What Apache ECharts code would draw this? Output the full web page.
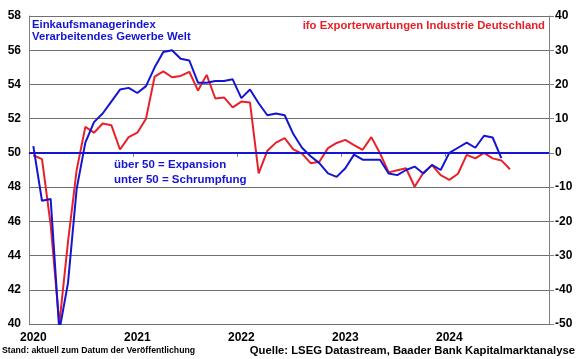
<!DOCTYPE html>
<html>
<head>
<meta charset="utf-8">
<script src="https://cdn.jsdelivr.net/npm/echarts@6/dist/echarts.min.js"></script>
<style>
html,body{margin:0;padding:0;background:#fff;}
#chart{width:580px;height:359px;}
</style>
</head>
<body>
<div id="chart"></div>
<script>
// Months Jan 2020 .. Dec 2024
var years = ['2020', '2021', '2022', '2023', '2024'];
var months = [];
years.forEach(function (y) { for (var m = 1; m <= 12; m++) months.push(y + '-' + (m < 10 ? '0' + m : m)); });

// Einkaufsmanagerindex Verarbeitendes Gewerbe Welt (left axis)
var pmiWorld = [
  50.4, 47.2, 47.3, 39.6, 42.4, 47.9, 50.6, 51.8, 52.3, 53.0, 53.7, 53.8,
  53.5, 53.9, 55.0, 55.9, 56.0, 55.5, 55.4, 54.1, 54.1, 54.2, 54.2, 54.3,
  53.2, 53.7, 52.9, 52.2, 52.3, 52.2, 51.1, 50.3, 49.8, 49.4, 48.8, 48.6,
  49.1, 49.9, 49.6, 49.6, 49.6, 48.8, 48.7, 49.0, 49.2, 48.8, 49.3, 49.0,
  50.0, 50.3, 50.6, 50.3, 51.0, 50.9, 49.7
];

// ifo Exporterwartungen Industrie Deutschland (right axis)
var ifoExport = [
  -0.7, -1.8, -21, -50, -26, -5, 7.6, 5.9, 8.6, 8.1, 1.0, 4.6,
  5.9, 10.0, 22.3, 23.8, 22.1, 22.5, 23.7, 18.2, 22.8, 15.9, 16.2, 13.3,
  15.0, 14.7, -6.0, 0.6, 3.0, 4.3, 1.0, -0.2, -3.0, -2.6, 1.4, 2.9,
  3.8, 2.3, 0.9, 4.6, -0.1, -5.7, -5.1, -4.5, -9.9, -5.8, -3.6, -6.5,
  -7.9, -6.1, -0.6, -1.6, 0.0, -1.6, -2.2, -4.8
];

var leftTicks = {min: 40, max: 58, interval: 2};
var rightTicks = {min: -50, max: 40, interval: 10};
var threshold = 50;

var BLUE = '#1414d2';
var RED = '#e8202a';
var FONT = '"Liberation Sans", Arial, sans-serif';

var chart = echarts.init(document.getElementById('chart'), null, {renderer: 'canvas'});
chart.setOption({
  animation: false,
  backgroundColor: '#fff',
  grid: {left: 29, right: 31, top: 16, bottom: 35, containLabel: false},
  xAxis: {
    type: 'category',
    data: months,
    boundaryGap: true,
    axisLine: {show: true, lineStyle: {color: '#808080', width: 1}},
    axisTick: {show: true, interval: 11, length: 4, lineStyle: {color: '#808080'}},
    axisLabel: {
      interval: 11, margin: 8,
      color: '#000', fontFamily: FONT, fontWeight: 'bold', fontSize: 12,
      formatter: function (v) { return v.slice(0, 4); }
    },
    splitLine: {show: false}
  },
  yAxis: [
    {
      type: 'value', position: 'left',
      min: leftTicks.min, max: leftTicks.max, interval: leftTicks.interval,
      axisLine: {show: true, lineStyle: {color: '#808080'}},
      axisTick: {show: false},
      axisLabel: {margin: 8, color: '#000', fontFamily: FONT, fontWeight: 'bold', fontSize: 12},
      splitLine: {show: true, lineStyle: {color: '#707070', width: 1}}
    },
    {
      type: 'value', position: 'right',
      min: rightTicks.min, max: rightTicks.max, interval: rightTicks.interval,
      axisLine: {show: true, lineStyle: {color: '#808080'}},
      axisTick: {show: true, length: 5, lineStyle: {color: '#808080'}},
      axisLabel: {margin: 6, color: '#000', fontFamily: FONT, fontWeight: 'bold', fontSize: 12},
      splitLine: {show: false}
    }
  ],
  series: [
    {
      name: 'ifo Exporterwartungen Industrie Deutschland',
      type: 'line', yAxisIndex: 1, data: ifoExport,
      showSymbol: false, symbol: 'none', clip: true,
      lineStyle: {color: RED, width: 2}, itemStyle: {color: RED}, z: 3
    },
    {
      name: 'Einkaufsmanagerindex Verarbeitendes Gewerbe Welt',
      type: 'line', yAxisIndex: 0, data: pmiWorld,
      showSymbol: false, symbol: 'none', clip: true,
      lineStyle: {color: BLUE, width: 2}, itemStyle: {color: BLUE}, z: 4,
      markLine: {
        silent: true, symbol: ['none', 'none'], label: {show: false},
        lineStyle: {color: BLUE, width: 2, type: 'solid'},
        data: [{yAxis: threshold}]
      }
    }
  ],
  graphic: [
    {type: 'text', left: 32, top: 19, style: {text: 'Einkaufsmanagerindex\nVerarbeitendes Gewerbe Welt', fill: BLUE, font: 'bold 11.3px ' + FONT, lineHeight: 12}},
    {type: 'text', right: 35, top: 20, style: {text: 'ifo Exporterwartungen Industrie Deutschland', fill: RED, font: 'bold 11.3px ' + FONT}},
    {type: 'text', left: 114, top: 157, style: {text: 'über 50 = Expansion\nunter 50 = Schrumpfung', fill: BLUE, font: 'bold 11.5px ' + FONT, lineHeight: 15}},
    {type: 'text', left: 2, top: 346, style: {text: 'Stand: aktuell zum Datum der Veröffentlichung', fill: '#000', font: 'bold 8.7px ' + FONT}},
    {type: 'text', right: 5, top: 345, style: {text: 'Quelle: LSEG Datastream, Baader Bank Kapitalmarktanalyse', fill: '#000', font: 'bold 11.3px ' + FONT}}
  ]
});
</script>
</body>
</html>
